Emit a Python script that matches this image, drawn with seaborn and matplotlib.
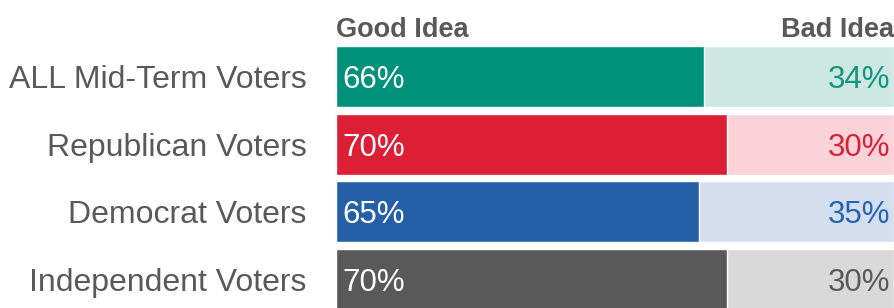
import matplotlib.pyplot as plt
import seaborn as sns
import pandas as pd

# data
groups = ["ALL Mid-Term Voters", "Republican Voters", "Democrat Voters", "Independent Voters"]
good = [66, 70, 65, 70]
bad = [34, 30, 35, 30]

dark = ["#00917A", "#DC1F35", "#245FA8", "#595959"]
light = ["#CDE8E3", "#F9D3D8", "#D3DEEE", "#D9D9D9"]
bad_text = ["#13967F", "#DC1F35", "#2663B0", "#595959"]

df = pd.DataFrame({"group": groups, "good": good, "bad": bad})
df["total"] = df["good"] + df["bad"]

sns.set_style("white")
plt.rcParams["font.family"] = ["Liberation Sans", "DejaVu Sans"]

fig = plt.figure(figsize=(8.94, 3.08), dpi=100)
ax = fig.add_axes([336 / 894, 0, 1 - 336 / 894, 1 - 42.6 / 308])

sns.barplot(data=df, x="total", y="group", hue="group", palette=light,
            legend=False, width=0.9, orient="h", saturation=1, ax=ax)
sns.barplot(data=df, x="good", y="group", hue="group", palette=dark,
            legend=False, width=0.9, orient="h", saturation=1, ax=ax)

ax.set_xlim(0, 100)
ax.set_ylim(3.42, -0.5)
ax.set_xlabel("")
ax.set_ylabel("")
ax.set_xticks([])
ax.tick_params(axis="y", length=0, pad=21, labelsize=23, labelcolor="#595959")
sns.despine(ax=ax, left=True, bottom=True)

for i, row in df.iterrows():
    ax.text(1.2, i, f"{row['good']}%", color="white", fontsize=22.5,
            va="center_baseline", ha="left")
    ax.text(99.3, i, f"{row['bad']}%", color=bad_text[i], fontsize=22.5,
            va="center_baseline", ha="right")

ax.text(0, 1.021, "Good Idea", transform=ax.transAxes, fontsize=19.5,
        fontweight="bold", color="#595959", ha="left", va="baseline")
ax.text(1, 1.021, "Bad Idea", transform=ax.transAxes, fontsize=19.5,
        fontweight="bold", color="#595959", ha="right", va="baseline")

fig.savefig("out.png", dpi=100)
